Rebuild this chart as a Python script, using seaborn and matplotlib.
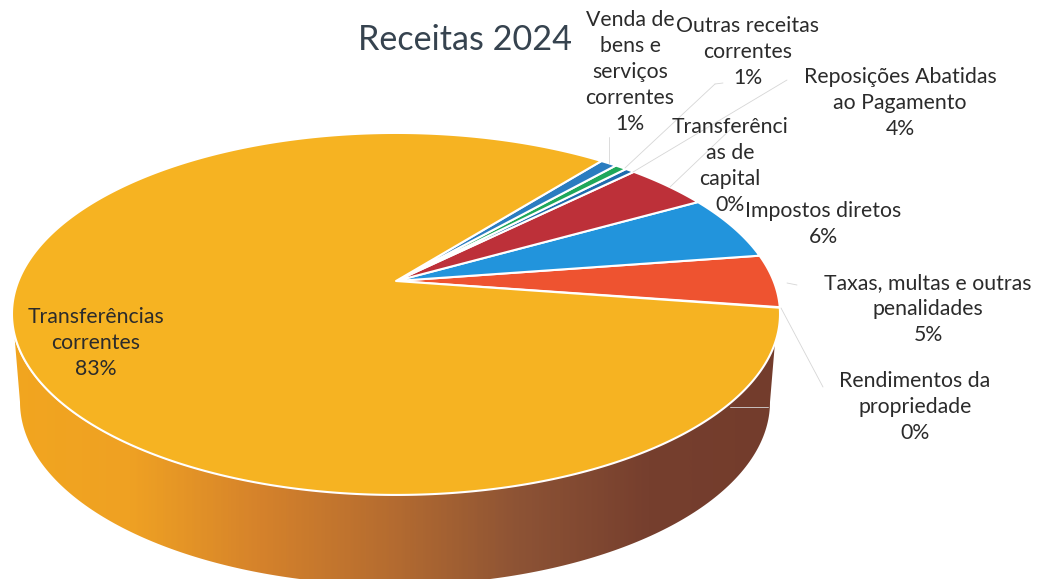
import numpy as np
import matplotlib
matplotlib.use("Agg")
import matplotlib.pyplot as plt
from matplotlib.patches import Polygon
import seaborn as sns

sns.set_theme(style="white")
plt.rcParams['font.family'] = ['Lato', 'DejaVu Sans']

# --- dados ---
titulo = "Receitas 2024"
categorias = ["Rendimentos da\npropriedade", "Taxas, multas e outras\npenalidades", "Impostos diretos",
              "Reposições Abatidas\nao Pagamento", "Transferênci\nas de\ncapital", "Outras receitas\ncorrentes",
              "Venda de\nbens e\nserviços\ncorrentes", "Transferências\ncorrentes"]
valores = [0.05, 4.7, 5.8, 4.25, 0.47, 0.6, 0.83, 83.3]
percentagens = [0, 5, 6, 4, 0, 1, 1, 83]

cores = sns.color_palette(["#f5b323", "#ee5330", "#2294dc", "#bd3039", "#1f6cae", "#1fa85a", "#2a7cc0", "#f6b322"])

# posicao dos rotulos em pixeis
pos_rotulos = [(915, 407), (928, 309), (823, 224), (900, 103), (730, 166), (748, 52), (630, 72), (96, 343)]

# linhas de chamada
chamadas = [((609, 137), (609, 163)), ((723, 83), (715, 84)), ((715, 84), (625, 168)), ((787, 80), (633, 172)),
            ((670, 187), (735, 125)), ((781, 308), (823, 387)), ((787, 283), (797, 285)), ((730, 407), (768, 407))]

# --- perspetiva do disco ---
VX, VY = 396, 281
K, A, C = 0.182, 175, 377.6


def projetar(ang):
    # circulo unitario -> elipse vista em perspetiva
    t = np.radians(ang)
    u, v = np.cos(t), np.sin(t)
    w = 1 + K * v
    return np.column_stack([VX + C * u / w, VY - A * v / w])


def elipse(cx, cy, rx, ry, ang):
    t = np.radians(ang)
    return np.column_stack([cx + rx * np.cos(t), cy + ry * np.sin(t)])


fig = plt.figure(figsize=(10.38, 5.79), dpi=100)
ax = fig.add_axes([0, 0, 1, 1])

wedges, _ = ax.pie(valores, startangle=-8.55, counterclock=True, colors=cores)
angulos = [(w.theta1, w.theta2) for w in wedges]
for w in wedges:
    w.remove()
ax.set_aspect('auto')
ax.set_xlim(0, 1038)
ax.set_ylim(579, 0)
ax.axis('off')

# --- parede lateral com gradiente ---
borda_sup = elipse(395, 314, 384, 181, np.linspace(8, 172, 200))
borda_inf = elipse(395, 402, 375, 183, np.linspace(180, 0, 200))
parede = Polygon(np.vstack([borda_sup, borda_inf]), closed=True, fc='none', ec='none')
ax.add_patch(parede)
gradiente = sns.blend_palette(["#f2a61f", "#efa123", "#d5822b", "#b56c30", "#8d5335", "#763f2e", "#733c2c", "#733c2c",
                               "#733c2c"], as_cmap=True)
img = ax.imshow(np.linspace(0, 1, 400).reshape(1, -1), extent=(0, 1038, 579, 0), cmap=gradiente,
                aspect='auto', zorder=1)
img.set_clip_path(parede)

# --- fatias ---
for (a1, a2), cor in zip(angulos, cores):
    n = max(int(a2 - a1) * 2, 8)
    arco = projetar(np.linspace(a1, a2, n))
    pts = np.vstack([[VX, VY], arco])
    ax.add_patch(Polygon(pts, closed=True, fc=cor, ec='white', lw=1.5, joinstyle='round', zorder=2))

# --- rotulos ---
for cat, pct, (x, y) in zip(categorias, percentagens, pos_rotulos):
    ax.text(x, y, f"{cat}\n{pct}%", ha='center', va='center', fontsize=15.3, color='#2b2b2b',
            linespacing=1.37, zorder=4)

for (x0, y0), (x1, y1) in chamadas:
    ax.plot([x0, x1], [y0, y1], color='#d6d6d6', lw=0.6, zorder=3)

ax.text(465, 40, titulo, ha='center', va='center', fontsize=24.6, color='#36434f', zorder=4)

ax.set_xlim(0, 1038)
ax.set_ylim(579, 0)
fig.savefig("out.png", dpi=100, facecolor='white')
